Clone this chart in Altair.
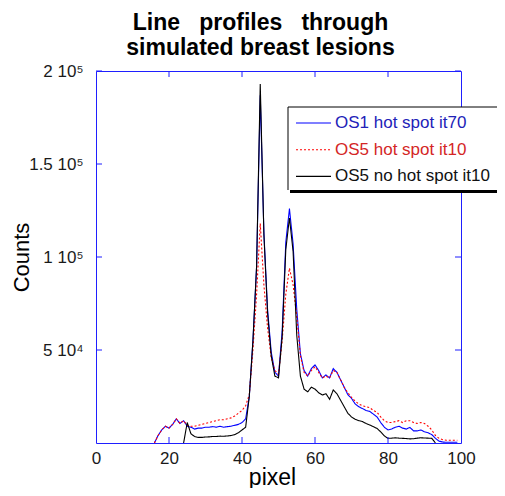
import altair as alt
import pandas as pd

# ---- data (counts in thousands) ----
series_names = ["OS1 hot spot it70", "OS5 hot spot it10", "OS5 no hot spot it10"]

pixel_os1 = list(range(16, 100))
counts_os1_k = [0, 4, 7, 9, 8, 10, 13, 10.5, 12, 9, 8.5, 7.5, 8, 8, 8.5, 8.5, 8.8, 8.5, 9, 8.5,
                8.8, 9, 9.5, 10, 11, 13, 25, 55, 95, 187, 113, 72, 49, 38, 36, 60, 108, 126, 107, 72,
                48, 39, 36, 40, 42, 39, 35, 36.6, 35, 40, 38, 34, 30, 26, 24, 21, 19.5, 18.5, 17.5, 17,
                15.5, 14, 11, 8.5, 7, 7.5, 8.5, 9, 8, 7.5, 8.4, 6.5, 6.5, 7, 6, 5.5, 4.5, 2.5, 1, 0.5,
                0.4, 0.4, 0.4, 0.4]

pixel_os5 = list(range(16, 100))
counts_os5_k = [0, 4, 7, 9, 8, 10, 13, 10.5, 12, 9.5, 9, 9, 9.5, 10, 10.5, 11, 11.5, 12, 12.5, 12.5,
                13, 13.5, 14.5, 16, 17.5, 20, 26, 50, 80, 118, 85, 62, 46, 39, 37, 55, 80, 94, 85, 68,
                47, 38, 36, 39, 41, 38, 35, 36, 35, 39, 38, 34, 30, 27, 24.5, 22.5, 21, 20, 19.5, 19,
                17.5, 16.5, 14, 12, 11, 11, 11.5, 12, 11, 12, 12, 11, 10.5, 11, 10.5, 9, 7, 4, 2.5, 1.8,
                1.5, 1.5, 1.5, 1.5]

pixel_os5n = list(range(24, 94))
counts_os5n_k = [0, 11, 5, 3.5, 3, 3, 3.2, 3.3, 3.5, 3.5, 3.7, 3.6, 3.8, 4, 4.5, 5.5, 7, 8.5, 25, 55,
                 95, 193, 112, 70, 47, 36, 35, 57, 104, 121, 103, 58, 36, 29, 27.5, 30, 29, 27, 25.8, 26.5,
                 23.5, 28.5, 26.5, 23, 19.5, 16, 14, 12.8, 12, 11.5, 10.5, 9.7, 8.8, 7.8, 6, 3.8, 2.5, 2.6, 2.8, 2.6,
                 2.5, 2.4, 2.2, 2.3, 2.6, 2.8, 2.7, 2.6, 2.5, 0]

x_tick_values = [0, 20, 40, 60, 80, 100]
y_tick_values = [50000, 100000, 150000, 200000]
y_tick_labels = ["5 10\u2074", "1 10\u2075", "1.5 10\u2075", "2 10\u2075"]

# ---- styles ----
line_colors = ["#0000ff", "#ff0000", "#000000"]
line_dashes = [[1, 0], [2, 2], [1, 0]]
text_colors = ["#2222b8", "#d42626", "#111111"]
axis_blue = "#1f1fff"
FONT = "Liberation Sans"
W, H = 365, 372

rows = []
for name, xs, ys in [(series_names[0], pixel_os1, counts_os1_k),
                     (series_names[1], pixel_os5, counts_os5_k),
                     (series_names[2], pixel_os5n, counts_os5n_k)]:
    for px, c in zip(xs, ys):
        rows.append({"series": name, "pixel": px, "counts": c * 1000})
df = pd.DataFrame(rows)

legend_df = pd.DataFrame({"series": series_names, "idx": list(range(len(series_names))),
                          "tcolor": text_colors})

xscale = alt.Scale(domain=[0, 100], nice=False, zero=False)
yscale = alt.Scale(domain=[0, 200000], nice=False)
color_scale = alt.Scale(domain=series_names, range=line_colors)
dash_scale = alt.Scale(domain=series_names, range=line_dashes)

label_expr = " : ".join(
    f"datum.value == {v} ? '{l}'" for v, l in zip(y_tick_values, y_tick_labels)
) + " : ''"

lines = alt.Chart(df).mark_line(strokeWidth=1.1, clip=True).encode(
    x=alt.X("pixel:Q", scale=xscale,
            axis=alt.Axis(values=x_tick_values, title="pixel", labelPadding=7, labelFlush=False,
                          titleFontSize=23, titleX=176, titleY=41, titleBaseline="alphabetic")),
    y=alt.Y("counts:Q", scale=yscale,
            axis=alt.Axis(values=y_tick_values, labelExpr=label_expr, title="Counts",
                          labelPadding=13, labelFlush=False, titleFontSize=22, titleX=-68, titleY=186,
                          titleBaseline="alphabetic")),
    color=alt.Color("series:N", scale=color_scale, legend=None),
    strokeDash=alt.StrokeDash("series:N", scale=dash_scale, legend=None),
)

tx = pd.DataFrame({"v": x_tick_values[1:-1]})
ty = pd.DataFrame({"v": y_tick_values})
tick_len = 6
xt_bot = alt.Chart(tx).mark_rule(color=axis_blue).encode(
    x=alt.X("v:Q", scale=xscale), y=alt.value(H), y2=alt.value(H - tick_len))
xt_top = alt.Chart(tx).mark_rule(color=axis_blue).encode(
    x=alt.X("v:Q", scale=xscale), y=alt.value(0), y2=alt.value(tick_len))
yt_left = alt.Chart(ty).mark_rule(color=axis_blue).encode(
    y=alt.Y("v:Q", scale=yscale), x=alt.value(0), x2=alt.value(tick_len))
yt_right = alt.Chart(ty).mark_rule(color=axis_blue).encode(
    y=alt.Y("v:Q", scale=yscale), x=alt.value(W - tick_len), x2=alt.value(W))

# legend box (open to the right, like the cropped original)
LX0, LX1, LY0, LY1 = 192, 480, 36, 119
box_base = alt.Chart(legend_df.head(1))
shadow = box_base.mark_rect(color="black").encode(
    x=alt.value(LX0 + 2), x2=alt.value(LX1), y=alt.value(LY1), y2=alt.value(LY1 + 3))
box = box_base.mark_rect(fill="white", strokeWidth=0).encode(
    x=alt.value(LX0), x2=alt.value(LX1), y=alt.value(LY0), y2=alt.value(LY1))
edge_top = box_base.mark_rule(color="black", strokeWidth=1).encode(
    x=alt.value(LX0), x2=alt.value(LX1), y=alt.value(LY0))
edge_left = box_base.mark_rule(color="black", strokeWidth=1).encode(
    x=alt.value(LX0), y=alt.value(LY0), y2=alt.value(LY1))
leg_base = alt.Chart(legend_df).transform_calculate(ly="52 + 26.7 * datum.idx")
leg_lines = leg_base.mark_rule(strokeWidth=1.1).encode(
    x=alt.value(200), x2=alt.value(235), y=alt.Y("ly:Q", scale=None),
    color=alt.Color("series:N", scale=color_scale, legend=None),
    strokeDash=alt.StrokeDash("series:N", scale=dash_scale, legend=None),
)
leg_text = leg_base.mark_text(align="left", baseline="middle", fontSize=17, font=FONT).encode(
    x=alt.value(239), y=alt.Y("ly:Q", scale=None),
    text="series:N", fill=alt.Color("tcolor:N", scale=None),
)

chart = alt.layer(
    lines, xt_bot, xt_top, yt_left, yt_right, shadow, box, edge_top, edge_left,
    leg_lines, leg_text
).properties(
    width=W, height=H,
    title=alt.TitleParams(text=["Line\u00a0\u00a0 profiles\u00a0\u00a0 through", "simulated breast lesions"],
                          fontSize=23, fontWeight="bold", font=FONT, anchor="middle",
                          frame="group", dx=-18, offset=2, lineHeight=25, color="#000000"),
    autosize=alt.AutoSizeParams(type="none"),
    padding={"left": 88, "top": 63, "right": 36, "bottom": 45},
).configure_view(
    stroke=axis_blue, strokeWidth=1
).configure_axis(
    domain=False, ticks=False, grid=False, labelFont=FONT, titleFont=FONT,
    labelFontSize=17, labelColor="#1a1a1a", titleColor="#000000", titleFontWeight="normal",
)

chart.save("out.html", embed_options={"renderer": "svg", "actions": False})
